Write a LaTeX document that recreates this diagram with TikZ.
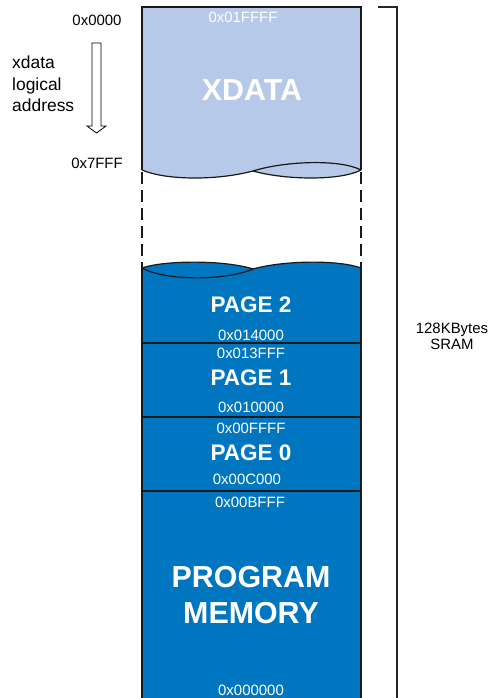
\documentclass[tikz,border=0pt]{standalone}
\usepackage{fontspec}
\setmainfont{Liberation Sans}
\definecolor{xdatablue}{RGB}{183,201,232}
\definecolor{sramblue}{RGB}{0,118,192}
\definecolor{edgegray}{RGB}{25,25,25}

\tikzset{
  hexlabel/.style={font=\fontsize{15}{18}\selectfont, text=white, inner sep=0pt},
  addrlabel/.style={font=\fontsize{15}{18}\selectfont, inner sep=0pt},
  pagelabel/.style={font=\fontsize{22.6}{26}\selectfont\bfseries, text=white, inner sep=0pt},
  biglabel/.style={font=\fontsize{30.5}{36}\selectfont\bfseries, text=white, inner sep=0pt, align=center},
  edge/.style={edgegray, line width=1.4bp},
  wave/.style={edgegray, line width=1.2bp},
}

\begin{document}
\begin{tikzpicture}[x=1bp, y=-1bp]
    \useasboundingbox (0,0) rectangle (488,698);

    % XDATA window (top)
    \fill[xdatablue] (142,7) -- (361,7) -- (361,170)
        .. controls (340,181) and (285,180) .. (253,171)
        .. controls (215,181) and (165,180) .. (142,170) -- cycle;
    \draw[edge] (142,170) -- (142,7) -- (361,7) -- (361,170);
    \draw[wave] (142,170) .. controls (165,180) and (215,181) .. (253,171)
        .. controls (285,180) and (340,181) .. (361,170);
    \draw[wave] (253,171) .. controls (285,161) and (340,159) .. (361,170);

    % gap between the windows
    \draw[edge, dash pattern=on 12bp off 6bp] (142,172) -- (142,268);
    \draw[edge, dash pattern=on 12bp off 6bp] (361,172) -- (361,268);

    % physical SRAM (bottom)
    \fill[sramblue] (142,268) .. controls (165,260) and (225,260) .. (253,269)
        .. controls (285,260) and (340,260) .. (361,268) -- (361,698) -- (142,698) -- cycle;
    \draw[wave] (142,268) .. controls (165,260) and (225,260) .. (253,269)
        .. controls (285,260) and (340,260) .. (361,268);
    \draw[wave] (142,268) .. controls (165,281) and (225,281) .. (253,269);
    \draw[edge] (142,268) -- (142,698);
    \draw[edge] (361,268) -- (361,698);
    \foreach \y in {343,417,491} {
        \draw[edge] (142,\y) -- (361,\y);
    }

    % SRAM bracket
    \draw[line width=1.2bp, black!85] (378,7) -- (397,7) -- (397,698);

    % logical address arrow
    \draw[line width=0.8bp, fill=white] (92,43) -- (101,43) -- (101,126) -- (106,126)
        -- (96.5,133) -- (87,126) -- (92,126) -- cycle;

    % labels
    \node[hexlabel] (xtop) at (243,17) {0x01FFFF};
    \node[biglabel] (xdata) at (252,90) {XDATA};

    \node[pagelabel] (page2) at (251,305) {PAGE 2};
    \node[hexlabel] (p2low) at (251,335) {0x014000};
    \node[hexlabel] (p1high) at (251,353) {0x013FFF};
    \node[pagelabel] (page1) at (251,378) {PAGE 1};
    \node[hexlabel] (p1low) at (251,407) {0x010000};
    \node[hexlabel] (p0high) at (251,428) {0x00FFFF};
    \node[pagelabel] (page0) at (251,453) {PAGE 0};
    \node[hexlabel] (p0low) at (247,479) {0x00C000};
    \node[hexlabel] (pmhigh) at (250,502) {0x00BFFF};
    \node[biglabel] (progmem) at (251,595) {PROGRAM\\MEMORY};
    \node[hexlabel] (pmlow) at (251,690) {0x000000};

    \node[addrlabel] (lstart) at (97,20) {0x0000};
    \node[addrlabel] (lend) at (97,163) {0x7FFF};
    \node[font=\fontsize{17.5}{21.5}\selectfont, align=left, inner sep=0pt, anchor=west] (logic) at (12,84)
        {xdata\\logical\\address};
    \node[font=\fontsize{15}{16}\selectfont, align=center, inner sep=0pt] (sram) at (452,336)
        {128KBytes\\SRAM};

\end{tikzpicture}
\end{document}
